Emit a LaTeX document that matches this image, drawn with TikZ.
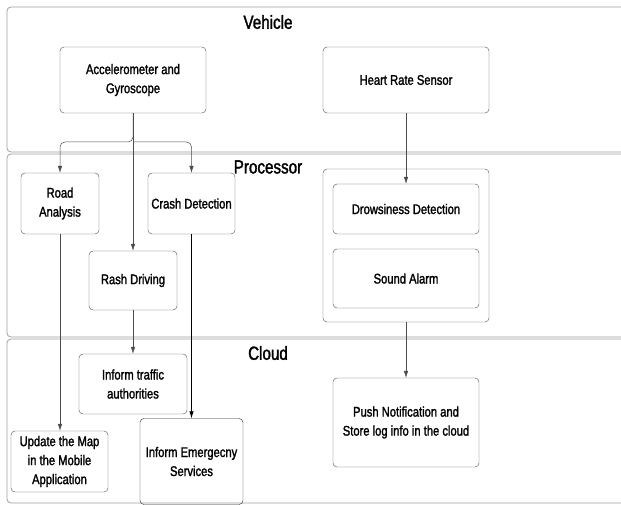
\documentclass[tikz,border=0pt]{standalone}
\usepackage{fontspec}
\setmainfont{Liberation Sans}[FakeStretch=0.8,FakeBold=1.6]
\usetikzlibrary{arrows.meta}

\begin{document}
\begin{tikzpicture}[x=1pt,y=-1pt,
  panel/.style={draw=gray!75, rounded corners=4pt, line width=0.8pt},
  blk/.style={draw=gray!60!black, rounded corners=4pt, align=center, inner sep=0pt,
    font=\fontsize{14}{19}\selectfont},
  title/.style={font=\fontsize{19}{21}\selectfont},
  link/.style={-{Latex[length=7pt,width=4.5pt]}, draw=black!70, line width=0.5pt}]
\useasboundingbox (0,0) rectangle (621,505);
% three layers
\draw[panel] (7,7) rectangle (640,152);
\draw[panel] (7,154) rectangle (640,337);
\draw[panel] (7,339) rectangle (640,503);
\node[title] (vehicle) at (268,22) {Vehicle};
\node[title] (processor) at (268,167) {Processor};
\node[title] (cloud) at (268,353) {Cloud};
% vehicle
\node[blk, minimum width=146pt, minimum height=66pt] (accel) at (133,80) {Accelerometer and\\Gyroscope};
\node[blk, minimum width=166pt, minimum height=66pt] (heart) at (406,80) {Heart Rate Sensor};
% processor
\node[blk, minimum width=78pt, minimum height=61pt] (road) at (60,203.5) {Road\\Analysis};
\node[blk, minimum width=87pt, minimum height=61pt] (crash) at (191.5,203.5) {Crash Detection};
\node[blk, minimum width=88pt, minimum height=59pt] (rash) at (133,280.5) {Rash Driving};
\node[blk, minimum width=166pt, minimum height=153pt] (drowsybox) at (406,245.5) {};
\node[blk, minimum width=146pt, minimum height=50pt] (drowsy) at (406,209) {Drowsiness Detection};
\node[blk, minimum width=146pt, minimum height=59pt] (alarm) at (406,278.5) {Sound Alarm};
% cloud
\node[blk, minimum width=108pt, minimum height=60pt] (traffic) at (133,384) {Inform traffic\\authorities};
\node[blk, minimum width=97pt, minimum height=61pt] (map) at (59.5,461.5) {Update the Map\\in the Mobile\\Application};
\node[blk, draw=black!85, minimum width=103pt, minimum height=86pt] (emerg) at (191.5,461.5) {Inform Emergecny\\Services};
\node[blk, minimum width=146pt, minimum height=89pt] (push) at (406,422.5) {Push Notification and\\Store log info in the cloud};
% connectors
\coordinate (split) at (133,142);
\draw[link] (accel) -- (rash);
\draw[link, rounded corners=5pt] (accel.south) |- (road.north |- split) -- (road.north);
\draw[link, rounded corners=5pt] (split) -| (crash.north);
\draw[link] (heart) -- (drowsy);
\draw[link] (road.south) -- (road.south |- map.north);
\draw[link] (rash) -- (traffic);
\draw[link, draw=black, line width=0.7pt] (crash) -- (emerg);
\draw[link] (drowsybox) -- (push);
\end{tikzpicture}
\end{document}
